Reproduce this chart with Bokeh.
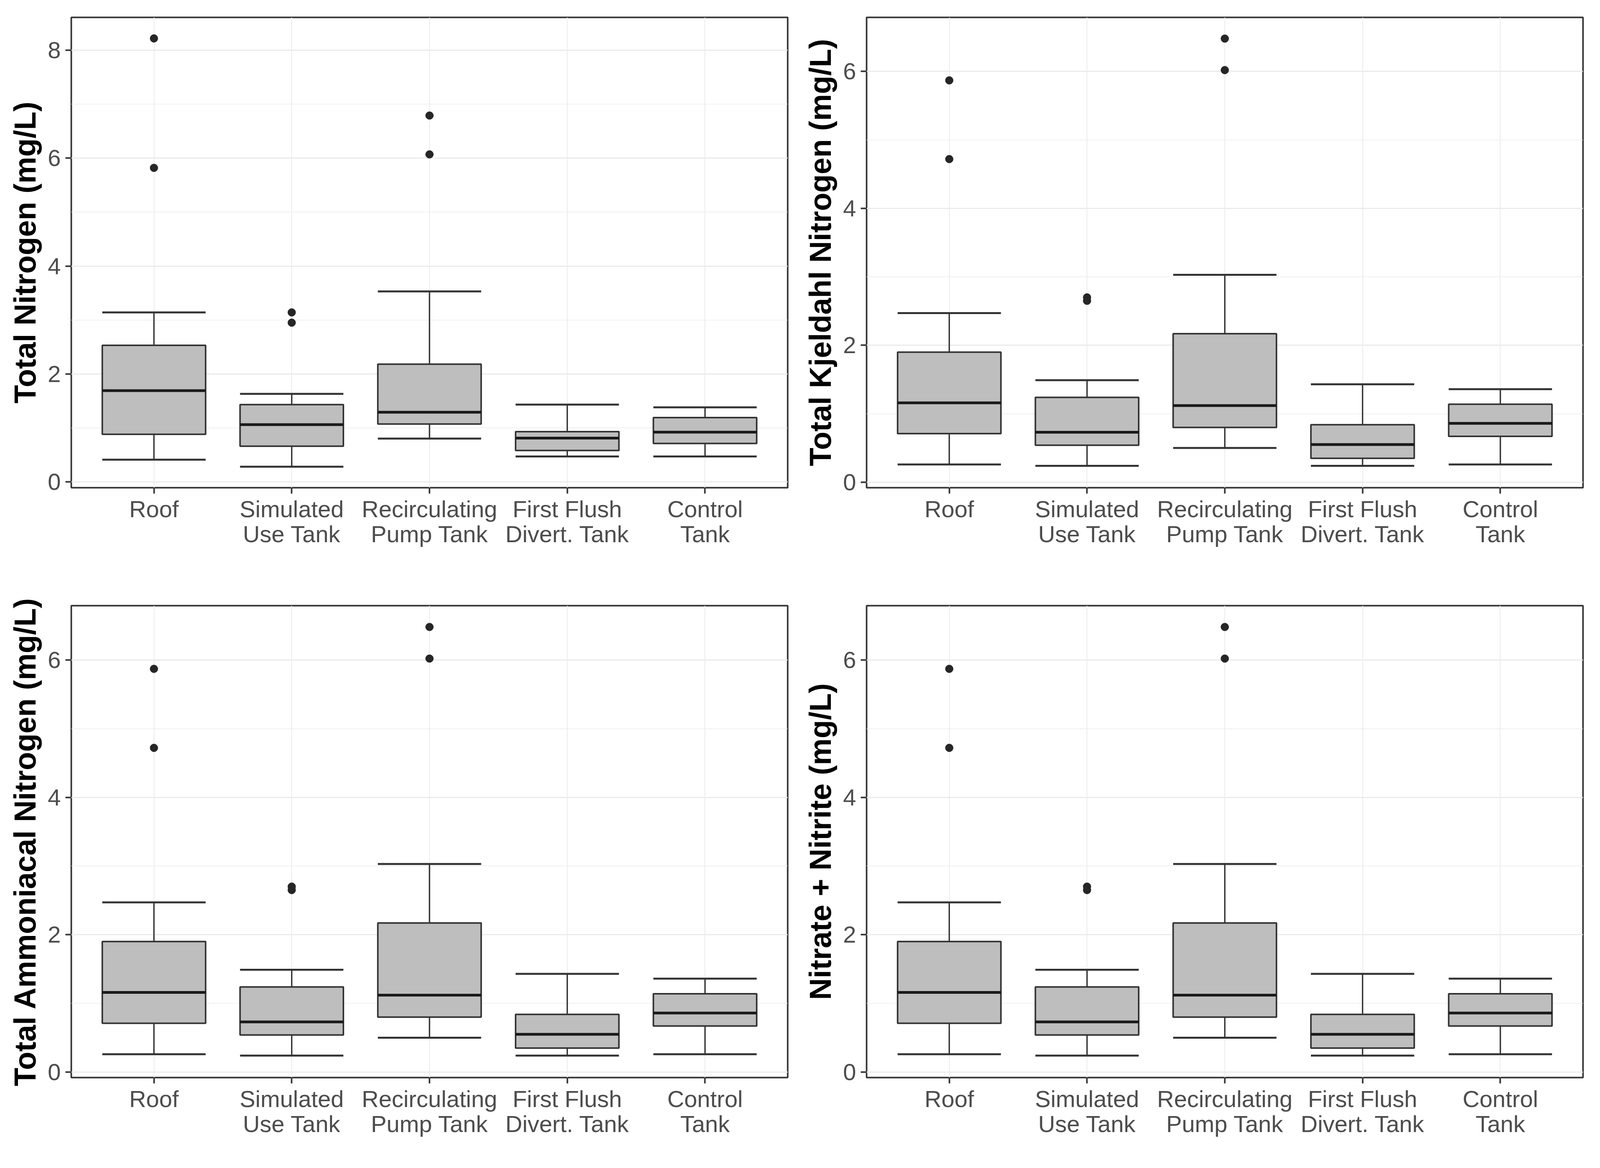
from bokeh.plotting import figure
from bokeh.layouts import column, row
from bokeh.models import Range1d, FixedTicker, ColumnDataSource
from bokeh.embed import file_html
from bokeh.resources import INLINE

categories = ["Roof", "Simulated\nUse Tank", "Recirculating\nPump Tank",
              "First Flush\nDivert. Tank", "Control\nTank"]
cat_pos = [1, 2, 3, 4, 5]

# Total Nitrogen
tn_lower = [0.41, 0.28, 0.80, 0.47, 0.47]
tn_q1 = [0.88, 0.66, 1.07, 0.58, 0.71]
tn_median = [1.69, 1.06, 1.29, 0.81, 0.92]
tn_q3 = [2.53, 1.43, 2.18, 0.93, 1.19]
tn_upper = [3.14, 1.63, 3.53, 1.43, 1.38]
tn_out_cat = [1, 1, 2, 2, 3, 3]
tn_out_val = [8.22, 5.82, 3.14, 2.95, 6.79, 6.07]

# Total Kjeldahl Nitrogen
tkn_lower = [0.26, 0.24, 0.50, 0.24, 0.26]
tkn_q1 = [0.71, 0.54, 0.80, 0.35, 0.67]
tkn_median = [1.16, 0.73, 1.12, 0.55, 0.86]
tkn_q3 = [1.90, 1.24, 2.17, 0.84, 1.14]
tkn_upper = [2.47, 1.49, 3.03, 1.43, 1.36]
tkn_out_cat = [1, 1, 2, 2, 3, 3]
tkn_out_val = [5.87, 4.72, 2.70, 2.65, 6.48, 6.02]

# Total Ammoniacal Nitrogen
tan_lower = [0.26, 0.24, 0.50, 0.24, 0.26]
tan_q1 = [0.71, 0.54, 0.80, 0.35, 0.67]
tan_median = [1.16, 0.73, 1.12, 0.55, 0.86]
tan_q3 = [1.90, 1.24, 2.17, 0.84, 1.14]
tan_upper = [2.47, 1.49, 3.03, 1.43, 1.36]
tan_out_cat = [1, 1, 2, 2, 3, 3]
tan_out_val = [5.87, 4.72, 2.70, 2.65, 6.48, 6.02]

# Nitrate + Nitrite
nn_lower = [0.26, 0.24, 0.50, 0.24, 0.26]
nn_q1 = [0.71, 0.54, 0.80, 0.35, 0.67]
nn_median = [1.16, 0.73, 1.12, 0.55, 0.86]
nn_q3 = [1.90, 1.24, 2.17, 0.84, 1.14]
nn_upper = [2.47, 1.49, 3.03, 1.43, 1.36]
nn_out_cat = [1, 1, 2, 2, 3, 3]
nn_out_val = [5.87, 4.72, 2.70, 2.65, 6.48, 6.02]

y_ticks_tn = [0, 2, 4, 6, 8]
y_ticks_other = [0, 2, 4, 6]

BOX_W = 0.75
FONT = "Liberation Sans"


def make_panel(ylabel, lower, q1, med, q3, upper, out_cat, out_val, yrange, yticks,
               width, height, mbl, mbr, mbt, mbb):
    p = figure(width=width, height=height, output_backend="svg", toolbar_location=None,
               x_range=Range1d(0.4, 5.6), y_range=Range1d(*yrange),
               min_border_left=mbl, min_border_right=mbr,
               min_border_top=mbt, min_border_bottom=mbb)
    p.background_fill_color = "white"
    p.border_fill_color = "white"
    p.outline_line_color = "#333333"
    p.outline_line_width = 4

    # grid
    p.xgrid.ticker = FixedTicker(ticks=cat_pos)
    p.xgrid.grid_line_color = "#EBEBEB"
    p.xgrid.grid_line_width = 2
    minor = [t + 1 for t in yticks]
    p.ygrid.ticker = FixedTicker(ticks=yticks, minor_ticks=minor)
    p.ygrid.grid_line_color = "#EBEBEB"
    p.ygrid.grid_line_width = 3
    p.ygrid.minor_grid_line_color = "#EBEBEB"
    p.ygrid.minor_grid_line_width = 1.5

    # axes
    p.xaxis.ticker = FixedTicker(ticks=cat_pos)
    p.xaxis.major_label_overrides = {c: lab for c, lab in zip(cat_pos, categories)}
    p.yaxis.ticker = FixedTicker(ticks=yticks)
    for ax in (p.xaxis[0], p.yaxis[0]):
        ax.axis_line_color = None
        ax.major_tick_line_color = "#333333"
        ax.major_tick_line_width = 4
        ax.major_tick_out = 15
        ax.major_tick_in = 0
        ax.minor_tick_line_color = None
        ax.major_label_text_font = FONT
        ax.major_label_text_font_size = "60px"
        ax.major_label_text_color = "#4D4D4D"
    p.xaxis.major_label_standoff = 6
    p.xaxis.major_label_text_line_height = 0.96
    p.yaxis.major_label_standoff = 12
    p.yaxis.axis_label = ylabel
    p.yaxis.axis_label_text_font = FONT
    p.yaxis.axis_label_text_font_size = "77px"
    p.yaxis.axis_label_text_font_style = "bold"
    p.yaxis.axis_label_text_color = "#000000"
    p.yaxis.axis_label_standoff = 12

    src = ColumnDataSource(dict(
        x=cat_pos, lower=lower, q1=q1, med=med, q3=q3, upper=upper,
        xl=[c - BOX_W / 2 for c in cat_pos], xr=[c + BOX_W / 2 for c in cat_pos]))

    # whisker caps
    p.segment(x0="xl", x1="xr", y0="upper", y1="upper", source=src,
              line_color="#333333", line_width=5)
    p.segment(x0="xl", x1="xr", y0="lower", y1="lower", source=src,
              line_color="#333333", line_width=5)
    # whiskers
    p.segment(x0="x", x1="x", y0="q3", y1="upper", source=src,
              line_color="#333333", line_width=3.5)
    p.segment(x0="x", x1="x", y0="lower", y1="q1", source=src,
              line_color="#333333", line_width=3.5)
    # boxes
    p.vbar(x="x", width=BOX_W, top="q3", bottom="q1", source=src,
           fill_color="#BEBEBE", line_color="#333333", line_width=4)
    # medians
    p.segment(x0="xl", x1="xr", y0="med", y1="med", source=src,
              line_color="#1A1A1A", line_width=7)
    # outliers
    p.scatter(x=out_cat, y=out_val, size=20, fill_color="#262626",
              line_color="#262626", marker="circle")
    return p


p1 = make_panel("Total Nitrogen (mg/L)", tn_lower, tn_q1, tn_median, tn_q3, tn_upper,
                tn_out_cat, tn_out_val, (-0.11, 8.61), y_ticks_tn,
                2042, 1460, 182, 26, 44, 212)
p2 = make_panel("Total Kjeldahl Nitrogen (mg/L)", tkn_lower, tkn_q1, tkn_median, tkn_q3,
                tkn_upper, tkn_out_cat, tkn_out_val, (-0.08, 6.79), y_ticks_other,
                2070, 1460, 176, 60, 44, 212)
p3 = make_panel("Total Ammoniacal Nitrogen (mg/L)", tan_lower, tan_q1, tan_median, tan_q3,
                tan_upper, tan_out_cat, tan_out_val, (-0.08, 6.79), y_ticks_other,
                2042, 1500, 182, 26, 90, 202)
p4 = make_panel("Nitrate + Nitrite (mg/L)", nn_lower, nn_q1, nn_median, nn_q3,
                nn_upper, nn_out_cat, nn_out_val, (-0.08, 6.79), y_ticks_other,
                2070, 1500, 176, 60, 90, 202)

layout = column(row(p1, p2), row(p3, p4))
open("out.html", "w").write(file_html(layout, INLINE))
